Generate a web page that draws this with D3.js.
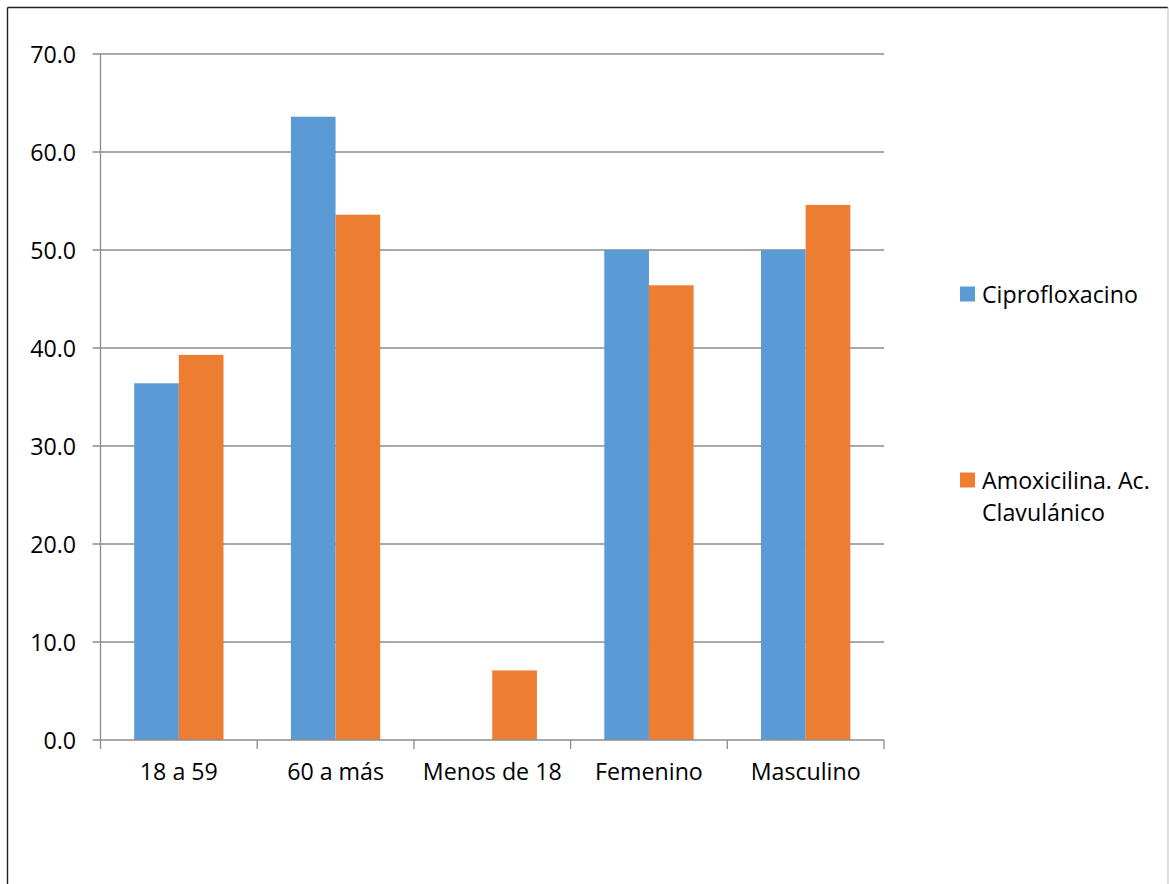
<!DOCTYPE html>
<html>
<head>
<meta charset="utf-8">
<script src="https://cdn.jsdelivr.net/npm/d3@7"></script>
<style>
  html, body { margin: 0; padding: 0; background: #fff; }
  svg { display: block; }
  text { font-family: "Open Sans", "Noto Sans", sans-serif; fill: #000; }
</style>
</head>
<body>
<svg id="chart" width="1169" height="884"></svg>
<script>
// Categories and series
const categories = ["18 a 59", "60 a más", "Menos de 18", "Femenino", "Masculino"];
const seriesNames = ["Ciprofloxacino", "Amoxicilina. Ac. Clavulánico"];
const ciprofloxacino = [36.4, 63.6, 0.0, 50.0, 50.0];
const amoxicilina = [39.3, 53.6, 7.1, 46.4, 54.6];
const yTicks = [0, 10, 20, 30, 40, 50, 60, 70];
const colors = ["#5b9bd5", "#ed7d31"];

const series = [ciprofloxacino, amoxicilina];
const fontSize = 23.2;

const svg = d3.select("#chart");

// Outer chart frame
svg.append("line").attr("x1", 7.5).attr("y1", 7.5).attr("x2", 1168).attr("y2", 7.5)
  .attr("stroke", "#222").attr("stroke-width", 1.4);
svg.append("line").attr("x1", 7.5).attr("y1", 7.5).attr("x2", 7.5).attr("y2", 884)
  .attr("stroke", "#222").attr("stroke-width", 1.4);
svg.append("line").attr("x1", 1168).attr("y1", 7.5).attr("x2", 1168).attr("y2", 884)
  .attr("stroke", "#c8c8c8").attr("stroke-width", 1.2);

const plot = { left: 100.5, right: 884, top: 54, bottom: 740 };

const x = d3.scaleBand()
  .domain(categories)
  .range([plot.left, plot.right])
  .paddingInner(0.43)
  .paddingOuter(0.215);

const xs = d3.scaleBand()
  .domain(d3.range(series.length))
  .range([0, x.bandwidth()]);

const y = d3.scaleLinear().domain([0, 70]).range([plot.bottom, plot.top]);

// Horizontal gridlines with small left ticks
const grid = svg.append("g");
grid.selectAll("line").data(yTicks.filter(d => d > 0)).join("line")
  .attr("x1", plot.left - 8).attr("x2", plot.right)
  .attr("y1", d => y(d)).attr("y2", d => y(d))
  .attr("stroke", "#8c8c8c").attr("stroke-width", 1.3);

// Bars
const groups = svg.append("g").selectAll("g").data(categories).join("g")
  .attr("transform", c => `translate(${x(c)},0)`);
groups.selectAll("rect")
  .data((c, i) => series.map((s, k) => ({ k, v: s[i] })))
  .join("rect")
  .attr("x", d => xs(d.k))
  .attr("width", xs.bandwidth())
  .attr("y", d => y(d.v))
  .attr("height", d => y(0) - y(d.v))
  .attr("fill", d => colors[d.k]);

// Y axis line
svg.append("line")
  .attr("x1", plot.left).attr("x2", plot.left)
  .attr("y1", plot.top).attr("y2", plot.bottom)
  .attr("stroke", "#8c8c8c").attr("stroke-width", 1.3);

// Y tick labels
svg.append("g").selectAll("text").data(yTicks).join("text")
  .attr("x", 76).attr("y", d => y(d))
  .attr("text-anchor", "end")
  .attr("dominant-baseline", "central")
  .attr("font-size", fontSize)
  .text(d => d.toFixed(1));

// X axis with category boundary ticks
const xAxis = d3.axisBottom(x).tickSize(0).tickPadding(24).tickSizeOuter(0);
const gx = svg.append("g").attr("transform", `translate(0,${plot.bottom})`).call(xAxis);
gx.select(".domain").attr("stroke", "#8c8c8c").attr("stroke-width", 1.3)
  .attr("d", `M${plot.left - 8},0H${plot.right}`);
gx.selectAll(".tick text")
  .attr("font-family", "'Open Sans', 'Noto Sans', sans-serif")
  .attr("font-size", fontSize).attr("fill", "#000");
const boundaries = categories.map(c => x(c) - x.step() * x.paddingInner() / 2)
  .concat([plot.right]);
boundaries[0] = plot.left;
gx.append("g").selectAll("line").data(boundaries).join("line")
  .attr("x1", d => d).attr("x2", d => d)
  .attr("y1", 0).attr("y2", 9)
  .attr("stroke", "#8c8c8c").attr("stroke-width", 1.3);

// Legend
const legend = svg.append("g");
const legendItems = [
  { name: seriesNames[0], lines: ["Ciprofloxacino"], y: 294 },
  { name: seriesNames[1], lines: ["Amoxicilina. Ac.", "Clavulánico"], y: 480 }
];
legendItems.forEach((it, i) => {
  legend.append("rect")
    .attr("x", 960).attr("y", it.y - 7.5)
    .attr("width", 15).attr("height", 15)
    .attr("fill", colors[i]);
  const t = legend.append("text")
    .attr("x", 982).attr("y", it.y)
    .attr("dominant-baseline", "central")
    .attr("font-size", fontSize);
  it.lines.forEach((ln, j) => {
    t.append("tspan").attr("x", 982).attr("dy", j === 0 ? 0 : 31.5).text(ln);
  });
});
</script>
</body>
</html>
